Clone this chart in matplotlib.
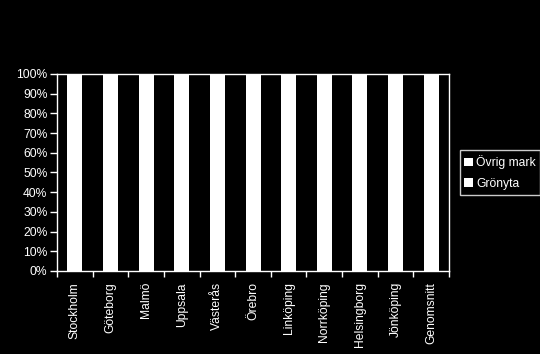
import matplotlib
matplotlib.use("Agg")
import matplotlib.pyplot as plt
import numpy as np
from matplotlib.ticker import FixedLocator

# cities (category axis)
cities = ['Stockholm', 'Göteborg', 'Malmö', 'Uppsala', 'Västerås', 'Örebro',
          'Linköping', 'Norrköping', 'Helsingborg', 'Jönköping', 'Genomsnitt']
# share of area, percent (both series drawn white in the original)
gronyta = [49, 50, 44, 47, 50, 48, 49, 52, 45, 53, 48.7]
ovrig_mark = [100 - g for g in gronyta]

plt.rcParams['font.family'] = ['Liberation Sans', 'DejaVu Sans']

fig = plt.figure(figsize=(5.4, 3.54), dpi=100, facecolor='black')
ax = fig.add_axes([0.1056, 0.2345, 0.7259, 0.5565], facecolor='black')

x = np.arange(len(cities))
ax.bar(x, gronyta, width=0.42, color='white', label='Grönyta')
ax.bar(x, ovrig_mark, width=0.42, bottom=gronyta, color='white', label='Övrig mark')

ax.set_xlim(-0.5, len(cities) - 0.5)
ax.set_ylim(0, 100)
ax.set_yticks(np.arange(0, 101, 10))
ax.set_yticklabels([f'{v}%' for v in range(0, 101, 10)])

ax.set_xticks(x)
ax.set_xticklabels(cities, rotation=90)
ax.xaxis.set_minor_locator(FixedLocator(np.arange(-0.5, len(cities), 1.0)))
ax.tick_params(axis='x', which='major', length=0, pad=8, colors='white', labelsize=8.7)
ax.tick_params(axis='x', which='minor', length=4, width=1, color='white', direction='out')
ax.tick_params(axis='y', length=5, width=1, color='white', labelcolor='white', labelsize=8.7, pad=2)

for s in ax.spines.values():
    s.set_color('white')
    s.set_linewidth(1)

handles, labels = ax.get_legend_handles_labels()
leg = ax.legend(handles[::-1], labels[::-1], loc='center left', bbox_to_anchor=(1.027, 0.5),
                frameon=True, fancybox=False, facecolor='black', edgecolor='white',
                fontsize=8.7, labelcolor='white', handlelength=0.7, handleheight=0.7,
                handletextpad=0.25, borderpad=0.4, labelspacing=0.7, borderaxespad=0)
leg.get_frame().set_linewidth(1)

fig.savefig('out.png', dpi=100, facecolor='black')
